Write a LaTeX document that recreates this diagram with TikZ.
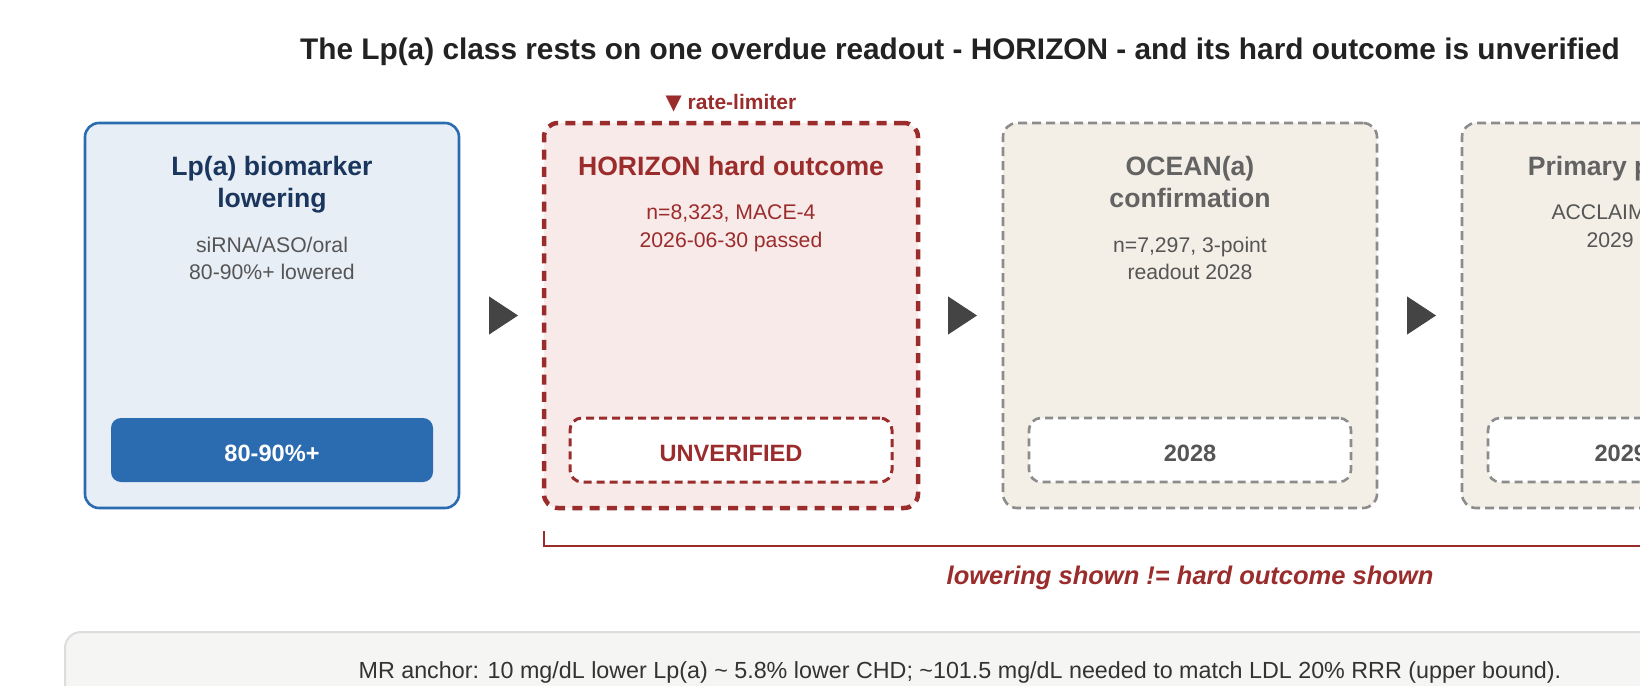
\documentclass[tikz,border=0pt]{standalone}
\usepackage{fontspec}
\setmainfont{Liberation Sans}
\newfontfamily\symbolfont{DejaVu Sans}
\usetikzlibrary{shapes,arrows.meta}

\definecolor{titleink}{HTML}{222222}
\definecolor{blueline}{HTML}{2B6CB0}
\definecolor{bluefill}{HTML}{E8EEF6}
\definecolor{bluetitle}{HTML}{1A365D}
\definecolor{redline}{HTML}{9B2C2C}
\definecolor{redfill}{HTML}{F9EAEA}
\definecolor{grayline}{HTML}{8C8C8C}
\definecolor{grayfill}{HTML}{F3EFE6}
\definecolor{graytitle}{HTML}{636363}
\definecolor{subtext}{HTML}{555555}
\definecolor{arrowgray}{HTML}{444444}
\definecolor{notefill}{HTML}{F5F5F4}
\definecolor{noteline}{HTML}{DDDDDD}
\definecolor{noteink}{HTML}{333333}

\begin{document}
\begin{tikzpicture}[x=1pt, y=-1pt, node distance=459pt,
	card/.style={rounded corners=14pt, minimum width=374pt, minimum height=385pt, inner sep=0pt, outer sep=0pt},
	shown/.style={card, draw=blueline, fill=bluefill, line width=2.6pt},
	limiter/.style={card, draw=redline, fill=redfill, line width=4.5pt, dash pattern=on 10pt off 7.3pt},
	pending/.style={card, draw=grayline, fill=grayfill, line width=2.6pt, dash pattern=on 9pt off 5pt},
	head/.style={font=\fontsize{26.6}{32}\selectfont\bfseries, align=center, inner sep=0pt, anchor=north},
	detail/.style={font=\fontsize{21.2}{27.5}\selectfont, align=center, inner sep=0pt, anchor=north},
	pill/.style={rounded corners=10pt, minimum width=322pt, minimum height=64pt, inner sep=0pt, text height=22pt, text depth=0pt, font=\fontsize{23.6}{28}\selectfont\bfseries},
	openpill/.style={pill, fill=white, rounded corners=12pt, dash pattern=on 8pt off 5pt},
	flow/.style={draw=arrowgray, line width=1pt, -{Triangle[length=29pt, width=38pt]}, shorten <=30pt, shorten >=26pt}]
	\useasboundingbox (0,0) rectangle (1640,685);
	\clip (0,0) rectangle (1640,685);
	\fill[white] (0,0) rectangle (1640,685);

	\node[font=\fontsize{29.8}{34}\selectfont\bfseries, text=titleink] (headline) at (960,52) {The Lp(a) class rests on one overdue readout - HORIZON - and its hard outcome is unverified};

	\node[shown] (lowering) at (272,315.5) {};
	\node[limiter, right of=lowering] (horizon) {};
	\node[pending, right of=horizon] (ocean) {};
	\node[pending, right of=ocean] (primary) {};
	\draw[flow] (lowering) -- (horizon);
	\draw[flow] (horizon) -- (ocean);
	\draw[flow] (ocean) -- (primary);

	\node[above of=horizon, node distance=212pt, inner sep=0pt, text=redline, font=\fontsize{21}{25}\selectfont\bfseries] (limit) {{\symbolfont\fontsize{21}{25}\selectfont ▼} rate-limiter};

	\node[above of=lowering, node distance=159.6pt, head, text=bluetitle] (tlowering) {Lp(a) biomarker\\lowering};
	\node[above of=lowering, node distance=78.9pt, detail, text=subtext] (slowering) {siRNA/ASO/oral\\80-90\%+ lowered};
	\node[below of=lowering, node distance=134.5pt, pill, fill=blueline, text=white] (plowering) {80-90\%+};

	\node[above of=horizon, node distance=159.6pt, head, text=redline] (thorizon) {HORIZON hard outcome};
	\node[above of=horizon, node distance=110.9pt, detail, text=redline] (shorizon) {n=8,323, MACE-4\\2026-06-30 passed};
	\node[below of=horizon, node distance=134.5pt, openpill, draw=redline, line width=3pt, text=redline] (phorizon) {UNVERIFIED};

	\node[above of=ocean, node distance=159.6pt, head, text=graytitle] (tocean) {OCEAN(a)\\confirmation};
	\node[above of=ocean, node distance=78.9pt, detail, text=subtext] (socean) {n=7,297, 3-point\\readout 2028};
	\node[below of=ocean, node distance=134.5pt, openpill, draw=grayline, line width=2.6pt, text=subtext] (pocean) {2028};

	\node[above of=primary, node distance=159.6pt, head, text=graytitle] (tprimary) {Primary prevention};
	\node[above of=primary, node distance=110.9pt, detail, text=subtext] (sprimary) {ACCLAIM, n=12,500\\2029 readout};
	\node[below of=primary, node distance=134.5pt, openpill, draw=grayline, line width=2.6pt, text=subtext] (pprimary) {2029 (est)};

	\draw[redline, line width=2.5pt] ([yshift=-23pt]horizon.south west) |- ([yshift=-38pt]primary.south east) -- ([yshift=-23pt]primary.south east);
	\node[below of=ocean, node distance=262pt, inner sep=0pt, text=redline, font=\fontsize{25.5}{30}\selectfont\bfseries\itshape] (gap) {lowering shown != hard outcome shown};

	\node[rounded corners=16pt, fill=notefill, draw=noteline, line width=2pt, minimum width=1790pt, minimum height=80pt, text=noteink, font=\fontsize{23.3}{27}\selectfont] (anchor) at (960,672) {MR anchor: 10 mg/dL lower Lp(a) \textasciitilde{} 5.8\% lower CHD; \textasciitilde101.5 mg/dL needed to match LDL 20\% RRR (upper bound).};
\end{tikzpicture}
\end{document}
